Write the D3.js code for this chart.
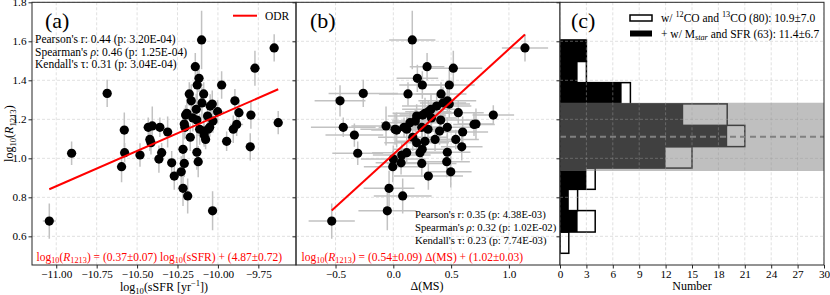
<!DOCTYPE html>
<html>
<head>
<meta charset="utf-8">
<script src="https://cdn.jsdelivr.net/npm/d3@7"></script>
<style>
body { margin: 0; background: #fff; }
svg { display: block; font-family: "Liberation Serif", "DejaVu Serif", serif; }
text { white-space: pre; }
</style>
</head>
<body>
<div id="chart"></div>
<script>
// sources sorted by log10(R1213), one entry per source (63 with SFR)
var logR = [1.607,1.566,1.470,1.462,1.410,1.376,1.376,1.333,1.330,1.330,
            1.295,1.295,1.284,1.278,1.268,1.251,1.239,1.234,1.231,1.222,
            1.222,1.217,1.207,1.196,1.191,1.183,1.176,1.174,1.166,1.159,
            1.159,1.159,1.159,1.149,1.149,1.149,1.145,1.140,1.135,1.119,
            1.108,1.097,1.097,1.087,1.080,1.059,1.046,1.031,1.029,1.029,
            1.026,1.017,0.996,0.983,0.977,0.974,0.957,0.931,0.909,0.846,
            0.807,0.731,0.678];
var logRerr = [0.15,0.07,0.07,0.09,0.07,0.08,0.07,0.07,0.06,0.06,
               0.08,0.06,0.08,0.07,0.06,0.08,0.06,0.06,0.08,0.05,
               0.07,0.06,0.07,0.08,0.06,0.06,0.08,0.06,0.10,0.05,
               0.05,0.06,0.05,0.08,0.07,0.06,0.09,0.07,0.08,0.06,
               0.07,0.06,0.05,0.05,0.06,0.07,0.10,0.09,0.05,0.05,
               0.06,0.06,0.07,0.08,0.06,0.07,0.08,0.08,0.07,0.09,
               0.09,0.10,0.09];
var sSFR = [-10.101,-9.652,-10.140,-9.771,-10.117,-10.128,-9.977,-10.685,-10.177,-10.088,
            -10.165,-9.895,-10.099,-10.035,-10.048,-10.134,-10.002,-9.870,-10.192,-10.200,
            -9.796,-10.064,-10.155,-10.130,-10.031,-9.627,-10.208,-9.884,-10.406,-10.431,
            -10.359,-10.204,-10.051,-10.113,-9.905,-10.060,-10.579,-10.088,-10.311,-10.085,
            -10.171,-10.421,-10.076,-9.946,-10.414,-9.800,-10.216,-10.130,-10.577,-10.348,
            -10.905,-10.482,-10.365,-10.122,-10.286,-10.208,-10.596,-10.227,-10.270,-10.216,
            -10.187,-10.033,-11.043];
var sSFRerr = [0.03,0.03,0.02,0.03,0.03,0.04,0.03,0.03,0.03,0.02,
               0.03,0.03,0.02,0.03,0.03,0.03,0.04,0.03,0.03,0.02,
               0.03,0.03,0.03,0.02,0.03,0.03,0.03,0.04,0.03,0.03,
               0.02,0.03,0.03,0.03,0.03,0.02,0.03,0.03,0.03,0.04,
               0.03,0.03,0.02,0.03,0.03,0.03,0.03,0.02,0.03,0.03,
               0.03,0.03,0.03,0.03,0.02,0.03,0.03,0.03,0.03,0.03,
               0.03,0.03,0.04];
var dMS = [0.164,1.139,0.292,0.519,0.208,0.484,0.251,-0.260,0.127,0.413,
           -0.461,0.467,0.43,0.484,0.375,0.326,0.303,0.562,0.274,0.865,
           0.254,0.202,0.33,0.410,0.19,0.144,0.715,0.698,-0.063,-0.433,
           0.093,0.246,0.467,0.015,0.30,0.116,0.029,0.40,0.600,-0.337,
           0.168,0.361,0.540,0.274,0.202,0.592,0.25,0.467,0.116,0.231,
           -0.308,0.073,0.0,0.462,0.067,0.246,-0.005,0.497,0.303,-0.037,
           0.081,-0.052,-0.533];
var dMSerr = [0.20,0.20,0.15,0.25,0.18,0.22,0.20,0.30,0.25,0.22,
              0.22,0.25,0.20,0.18,0.30,0.25,0.20,0.22,0.28,0.18,
              0.20,0.25,0.22,0.30,0.20,0.25,0.15,0.18,0.30,0.28,
              0.22,0.25,0.28,0.30,0.20,0.25,0.22,0.18,0.22,0.25,
              0.30,0.22,0.20,0.25,0.28,0.18,0.25,0.20,0.30,0.22,
              0.22,0.25,0.28,0.20,0.22,0.30,0.25,0.18,0.30,0.22,
              0.25,0.25,0.20];

// ODR lines [slope, intercept] as drawn
var fitA = [0.362, 4.839];
var fitB = [0.54, 1.02];

// histogram of log10(R1213), bins low -> high
var binEdges = [0.513,0.622,0.732,0.841,0.950,1.060,1.169,1.279,1.388,1.497,1.607];
var nCO = [1,4,2,4,15,21,19,8,3,3];     // w/ 12CO and 13CO (80)
var nSFR = [0,2,1,3,12,19,14,7,2,3];    // + w/ Mstar and SFR (63)
var band = [0.935, 1.111, 1.285];       // lower, mean, upper

var yTicks = [0.6,0.8,1.0,1.2,1.4,1.6,1.8];
var yTickLabels = ["0.6","0.8","1.0","1.2","1.4","1.6","1.8"];
var sTicks = [-11,-10.75,-10.5,-10.25,-10,-9.75];
var sTickLabels = ["\u221211.00","\u221210.75","\u221210.50","\u221210.25","\u221210.00","\u22129.75"];
var mTicks = [-0.5,0,0.5,1.0];
var mTickLabels = ["\u22120.5","0.0","0.5","1.0"];
var nTicks = [0,3,6,9,12,15,18,21,24,27,30];
var nTickLabels = ["0","3","6","9","12","15","18","21","24","27","30"];

var W = 830, H = 295;
var yTop = 2.3, yBot = 265;
var pa = [32, 296], pb = [296, 560], pc = [560, 824];
var gridCol = "#b8b8b8", errCol = "#c2c2c2", spineCol = "#262626";
var fs = 11.5;

var svg = d3.select("#chart").append("svg")
  .attr("width", W).attr("height", H);

var y = d3.scaleLinear().domain([0.453, 1.8]).range([yBot, yTop]);
var xA = d3.scaleLinear().domain([-11.150, -9.517]).range(pa);
var xB = d3.scaleLinear().domain([-0.842, 1.442]).range(pb);
var xC = d3.scaleLinear().domain([0, 30]).range(pc);

// text with sub/superscripts
function rich(g, x, yy, parts, size, color, anchor) {
  var t = g.append("text").attr("x", x).attr("y", yy)
    .attr("font-size", size).attr("fill", color || "#000")
    .attr("text-anchor", anchor || "start");
  var cur = 0;
  parts.forEach(function(p) {
    var s = typeof p === "string" ? {t: p} : p;
    var off = s.sub ? size * 0.25 : (s.sup ? -size * 0.4 : 0);
    var ts = t.append("tspan").text(s.t).attr("dy", off - cur);
    if (s.sub || s.sup) ts.attr("font-size", size * 0.72);
    if (s.it) ts.attr("font-style", "italic");
    cur = off;
  });
  return t;
}

function clip(id, r) {
  svg.append("clipPath").attr("id", id).append("rect")
    .attr("x", r[0]).attr("y", yTop).attr("width", r[1] - r[0]).attr("height", yBot - yTop);
}
clip("clipA", pa); clip("clipB", pb); clip("clipC", pc);

function grid(g, x, xt, r) {
  g.append("g").selectAll("line").data(xt).join("line")
    .attr("x1", d => x(d)).attr("x2", d => x(d))
    .attr("y1", yTop).attr("y2", yBot);
  g.append("g").selectAll("line").data(yTicks).join("line")
    .attr("x1", r[0]).attr("x2", r[1])
    .attr("y1", d => y(d)).attr("y2", d => y(d));
  g.attr("stroke", gridCol).attr("stroke-width", 0.8)
   .attr("stroke-dasharray", "3,2").attr("stroke-opacity", 0.55);
}

function axes(x, xt, xl, r, showY) {
  var gx = svg.append("g").attr("transform", "translate(0," + yBot + ")")
    .call(d3.axisBottom(x).tickValues(xt).tickFormat((d, i) => xl[i]).tickSize(3.5).tickPadding(2));
  var gy = svg.append("g").attr("transform", "translate(" + r[0] + ",0)")
    .call(d3.axisLeft(y).tickValues(yTicks).tickFormat((d, i) => showY ? yTickLabels[i] : "").tickSize(3.5).tickPadding(2));
  [gx, gy].forEach(function(g) {
    g.select(".domain").remove();
    g.selectAll("line").attr("stroke", spineCol);
    g.selectAll("text").attr("font-size", 11.2).attr("fill", "#000")
      .attr("font-family", "Liberation Serif, DejaVu Serif, serif");
  });
  svg.append("rect").attr("x", r[0]).attr("y", yTop)
    .attr("width", r[1] - r[0]).attr("height", yBot - yTop)
    .attr("fill", "none").attr("stroke", spineCol).attr("stroke-width", 1);
}

function scatter(xs, xerr, x, fit, clipId) {
  var g = svg.append("g").attr("clip-path", "url(#" + clipId + ")");
  var idx = d3.range(logR.length);
  g.append("g").attr("stroke", errCol).attr("stroke-width", 1.5)
    .selectAll("line").data(idx).join("line")
    .attr("x1", i => x(xs[i])).attr("x2", i => x(xs[i]))
    .attr("y1", i => y(logR[i] - logRerr[i])).attr("y2", i => y(logR[i] + logRerr[i]));
  g.append("g").attr("stroke", errCol).attr("stroke-width", 1.5)
    .selectAll("line").data(idx).join("line")
    .attr("x1", i => x(xs[i] - xerr[i])).attr("x2", i => x(xs[i] + xerr[i]))
    .attr("y1", i => y(logR[i])).attr("y2", i => y(logR[i]));
  g.append("g").selectAll("circle").data(idx).join("circle")
    .attr("cx", i => x(xs[i])).attr("cy", i => y(logR[i]))
    .attr("r", 4.6).attr("fill", "#000");
  var ext = d3.extent(xs);
  g.append("line")
    .attr("x1", x(ext[0])).attr("x2", x(ext[1]))
    .attr("y1", y(fit[0] * ext[0] + fit[1])).attr("y2", y(fit[0] * ext[1] + fit[1]))
    .attr("stroke", "#ff0000").attr("stroke-width", 2);
}

// ---------- panel (a)
grid(svg.append("g"), xA, sTicks, pa);
scatter(sSFR, sSFRerr, xA, fitA, "clipA");
axes(xA, sTicks, sTickLabels, pa, true);

svg.append("text").text("(a)").attr("x", 45).attr("y", 28).attr("font-size", 22);
var statA = svg.append("g");
rich(statA, 35, 43, ["Pearson's r: 0.44 (p: 3.20E-04)"], fs);
rich(statA, 35, 55.5, ["Spearman's ", {t: "\u03c1", it: true}, ": 0.46 (p: 1.25E-04)"], fs);
rich(statA, 35, 68, ["Kendall's \u03c4: 0.31 (p: 3.04E-04)"], fs);
svg.append("line").attr("x1", 233).attr("x2", 257).attr("y1", 15.7).attr("y2", 15.7)
  .attr("stroke", "#ff0000").attr("stroke-width", 2);
svg.append("text").text("ODR").attr("x", 265).attr("y", 19.5).attr("font-size", fs);
rich(svg, 36.5, 260.5, ["log", {t: "10", sub: true}, "(", {t: "R", it: true}, {t: "1213", sub: true},
  ") = (0.37\u00b10.07) log", {t: "10", sub: true}, "(sSFR) + (4.87\u00b10.72)"], fs, "#ff0000");

rich(svg, (pa[0] + pa[1]) / 2, 291, ["log", {t: "10", sub: true}, "(sSFR [yr", {t: "\u22121", sup: true}, "])"], 12, "#000", "middle");
rich(svg, 0, 0, ["log", {t: "10", sub: true}, "(", {t: "R", it: true}, {t: "1213", sub: true}, ")"], 12, "#000", "middle")
  .attr("transform", "translate(13," + ((yTop + yBot) / 2) + ") rotate(-90)");

// ---------- panel (b)
grid(svg.append("g"), xB, mTicks, pb);
scatter(dMS, dMSerr, xB, fitB, "clipB");
axes(xB, mTicks, mTickLabels, pb, false);

svg.append("text").text("(b)").attr("x", 310).attr("y", 28).attr("font-size", 22);
var statB = svg.append("g");
rich(statB, 415, 218, ["Pearson's r: 0.35 (p: 4.38E-03)"], 10.7);
rich(statB, 415, 231, ["Spearman's ", {t: "\u03c1", it: true}, ": 0.32 (p: 1.02E-02)"], 10.7);
rich(statB, 415, 244, ["Kendall's \u03c4: 0.23 (p: 7.74E-03)"], 10.7);
rich(svg, 301.5, 260.5, ["log", {t: "10", sub: true}, "(", {t: "R", it: true}, {t: "1213", sub: true},
  ") = (0.54\u00b10.09) \u0394(MS) + (1.02\u00b10.03)"], fs, "#ff0000");
svg.append("text").text("\u0394(MS)").attr("x", 427).attr("y", 290)
  .attr("text-anchor", "middle").attr("font-size", 12);

// ---------- panel (c)
svg.append("rect").attr("x", pc[0]).attr("y", yTop).attr("width", pc[1] - pc[0])
  .attr("height", yBot - yTop).attr("fill", "#fff");
var gc = svg.append("g").attr("clip-path", "url(#clipC)");
var bins = d3.range(nCO.length);
gc.append("g").selectAll("rect").data(bins).join("rect")
  .attr("x", xC(0)).attr("y", i => y(binEdges[i + 1]))
  .attr("width", i => xC(nCO[i]) - xC(0))
  .attr("height", i => y(binEdges[i]) - y(binEdges[i + 1]))
  .attr("fill", "#fff").attr("stroke", "#000").attr("stroke-width", 1.5);
gc.append("g").selectAll("rect").data(bins).join("rect")
  .attr("x", xC(0)).attr("y", i => y(binEdges[i + 1]))
  .attr("width", i => xC(nSFR[i]) - xC(0))
  .attr("height", i => y(binEdges[i]) - y(binEdges[i + 1]))
  .attr("fill", "#000");
grid(gc.append("g"), xC, nTicks, pc);
gc.append("rect").attr("x", pc[0]).attr("width", pc[1] - pc[0])
  .attr("y", y(band[2])).attr("height", y(band[0]) - y(band[2]))
  .attr("fill", "#808080").attr("fill-opacity", 0.5);
gc.append("line").attr("x1", pc[0]).attr("x2", pc[1])
  .attr("y1", y(band[1])).attr("y2", y(band[1]))
  .attr("stroke", "#808080").attr("stroke-width", 2).attr("stroke-dasharray", "6,4");
axes(xC, nTicks, nTickLabels, pc, false);

svg.append("text").text("(c)").attr("x", 571).attr("y", 28).attr("font-size", 22);
svg.append("rect").attr("x", 630).attr("y", 15).attr("width", 22).attr("height", 6)
  .attr("fill", "#fff").attr("stroke", "#000").attr("stroke-width", 1.5);
svg.append("rect").attr("x", 630).attr("y", 30.5).attr("width", 22).attr("height", 6)
  .attr("fill", "#000");
rich(svg, 661, 22, ["w/ ", {t: "12", sup: true}, "CO and ", {t: "13", sup: true}, "CO (80): 10.9\u00b17.0"], fs);
rich(svg, 661, 37.5, ["+ w/ M", {t: "star", sub: true, it: true}, " and SFR (63): 11.4\u00b16.7"], fs);
svg.append("text").text("Number").attr("x", (pc[0] + pc[1]) / 2).attr("y", 290)
  .attr("text-anchor", "middle").attr("font-size", 12);
</script>
</body>
</html>
